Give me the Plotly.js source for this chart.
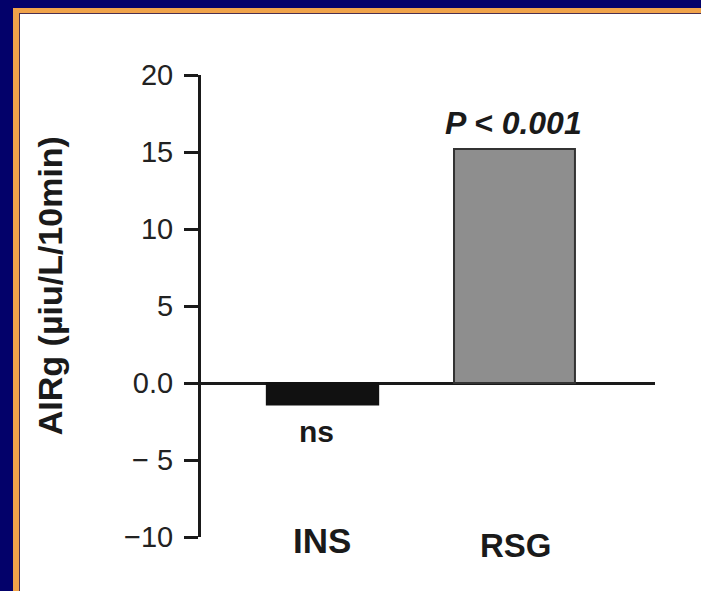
<!DOCTYPE html>
<html>
<head>
<meta charset="utf-8">
<script src="https://cdn.plot.ly/plotly-3.0.1.min.js"></script>
<style>
  html, body { margin: 0; padding: 0; background: #ffffff; }
  #wrap { position: relative; width: 701px; height: 591px; overflow: hidden; }
  #chart { position: absolute; left: 0; top: 0; width: 701px; height: 591px; }
  .fr { position: absolute; pointer-events: none; }
</style>
</head>
<body>
<div id="wrap">
  <div id="chart"></div>
  <div class="fr" style="left:0;top:0;width:701px;height:8px;background:#03016a;"></div>
  <div class="fr" style="left:0;top:0;width:13px;height:591px;background:#03016a;"></div>
  <div class="fr" style="left:13px;top:8px;width:688px;height:5px;background:#f0a34a;"></div>
  <div class="fr" style="left:13px;top:8px;width:6px;height:583px;background:#f0a34a;"></div>
  <div class="fr" style="left:19px;top:13px;width:682px;height:1px;background:#4a3050;"></div>
  <div class="fr" style="left:19px;top:13px;width:1px;height:578px;background:#4a3050;"></div>
</div>
<script>
// Data
const categories = ["INS", "RSG"];
const values = [-1.4, 15.2];
const barLabels = ["ns", "P < 0.001"];
const yTickVals = [-10, -5, 0, 5, 10, 15, 20];
const yTickText = ["\u221210", "\u2212 5", "0.0", "5", "10", "15", "20"];
const yTitle = "AIRg (\u00b5iu/L/10min)";

const font = "Liberation Sans, Arial, Helvetica, sans-serif";

const trace = {
  type: "bar",
  x: categories,
  y: values,
  width: [0.58, 0.63],
  marker: {
    color: ["#111111", "#8e8e8e"],
    line: { color: ["#111111", "#333333"], width: 2 }
  },
  hoverinfo: "none"
};

const annotations = [];
// category labels
categories.forEach((c, i) => {
  annotations.push({
    x: c, y: -10, xref: "x", yref: "y",
    text: "<b>" + c + "</b>", showarrow: false,
    xanchor: "center", yanchor: "middle",
    xshift: i === 0 ? -1 : 2, yshift: i === 0 ? -3 : -8,
    font: { family: font, size: i === 0 ? 35 : 33, color: "#1a1a1a" }
  });
});
// bar significance labels
annotations.push({
  x: categories[0], y: values[0], xref: "x", yref: "y",
  text: "<b>" + barLabels[0] + "</b>", showarrow: false,
  xanchor: "center", yanchor: "middle", xshift: -6, yshift: -27,
  font: { family: font, size: 30, color: "#1a1a1a" }
});
annotations.push({
  x: categories[1], y: values[1], xref: "x", yref: "y",
  text: "<b><i>" + barLabels[1] + "</i></b>", showarrow: false,
  xanchor: "center", yanchor: "middle", xshift: -1, yshift: 26,
  font: { family: font, size: 32, color: "#1a1a1a" }
});
// y-axis title
annotations.push({
  x: -0.3326, y: 0.545, xref: "paper", yref: "paper",
  text: "<b>" + yTitle + "</b>", showarrow: false, textangle: -90,
  xanchor: "center", yanchor: "middle",
  font: { family: font, size: 34, color: "#1a1a1a" }
});

const layout = {
  width: 701, height: 591,
  margin: { l: 201, r: 46, t: 75, b: 54, pad: 0 },
  paper_bgcolor: "#ffffff",
  plot_bgcolor: "rgba(0,0,0,0)",
  showlegend: false,
  xaxis: {
    type: "category",
    range: [-0.633, 1.732],
    showticklabels: false, ticks: "", showline: false,
    showgrid: false, zeroline: false, fixedrange: true
  },
  yaxis: {
    range: [-10, 20],
    tickvals: yTickVals, ticktext: yTickText,
    ticks: "outside", ticklen: 14, tickwidth: 3, tickcolor: "#1a1a1a",
    ticklabelstandoff: 5,
    showline: true, linewidth: 3, linecolor: "#1a1a1a",
    showgrid: false,
    zeroline: true, zerolinewidth: 3, zerolinecolor: "#1a1a1a",
    tickfont: { family: font, size: 29, color: "#222222" },
    fixedrange: true
  },
  annotations: annotations
};

Plotly.newPlot("chart", [trace], layout, { displayModeBar: false, staticPlot: true });
</script>
</body>
</html>
